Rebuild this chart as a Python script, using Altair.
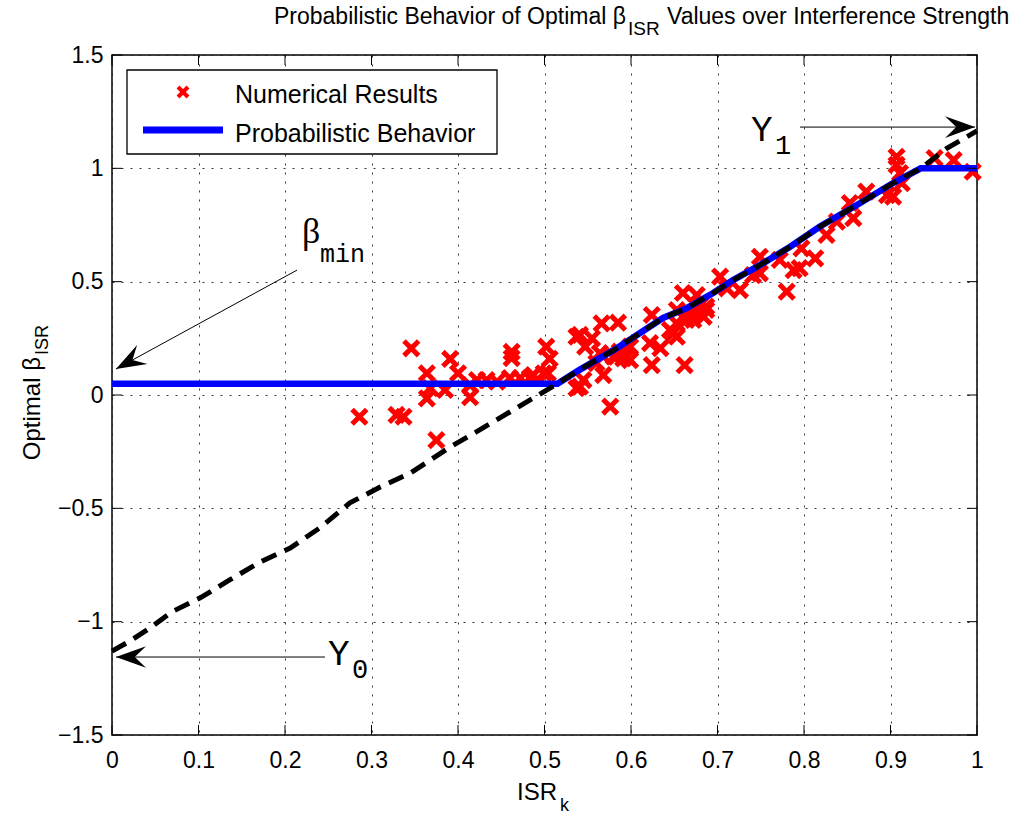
import altair as alt
import pandas as pd

W, H = 865, 680
SANS = "Liberation Sans"
MONO = "Liberation Mono"
SERIF = "Liberation Serif"

# ---- data ----
num_x = [0.286, 0.329, 0.337, 0.346, 0.364, 0.364, 0.368, 0.375, 0.385, 0.391,
         0.400, 0.414, 0.414, 0.422, 0.433, 0.445, 0.460, 0.462, 0.462, 0.472,
         0.483, 0.487, 0.499, 0.502, 0.504, 0.506, 0.537, 0.537, 0.541, 0.541,
         0.545, 0.547, 0.555, 0.560, 0.564, 0.566, 0.568, 0.576, 0.580, 0.583,
         0.585, 0.587, 0.591, 0.595, 0.599, 0.599, 0.622, 0.624, 0.624, 0.634,
         0.645, 0.649, 0.653, 0.653, 0.653, 0.660, 0.660, 0.662, 0.664, 0.664,
         0.672, 0.672, 0.676, 0.680, 0.684, 0.687, 0.687, 0.703, 0.711, 0.726,
         0.741, 0.749, 0.749, 0.772, 0.780, 0.788, 0.795, 0.797, 0.813, 0.826,
         0.838, 0.853, 0.857, 0.872, 0.896, 0.903, 0.907, 0.907, 0.911, 0.913,
         0.951, 0.973, 0.995]
num_y = [-0.096, -0.088, -0.096, 0.206, 0.096, -0.015, 0.030, -0.199, 0.022, 0.159,
         0.096, -0.010, 0.044, 0.066, 0.066, 0.059, 0.075, 0.190, 0.163, 0.075,
         0.075, 0.088, 0.096, 0.213, 0.096, 0.160, 0.257, 0.030, 0.037, 0.265,
         0.066, 0.213, 0.250, 0.141, 0.185, 0.316, 0.088, -0.051, 0.169, 0.169,
         0.319, 0.191, 0.162, 0.169, 0.213, 0.154, 0.229, 0.132, 0.353, 0.207,
         0.287, 0.273, 0.316, 0.257, 0.375, 0.450, 0.345, 0.132, 0.360, 0.331,
         0.331, 0.360, 0.441, 0.397, 0.345, 0.375, 0.390, 0.522, 0.470, 0.463,
         0.529, 0.610, 0.537, 0.596, 0.456, 0.551, 0.560, 0.647, 0.603, 0.706,
         0.765, 0.847, 0.780, 0.897, 0.882, 0.875, 1.051, 1.015, 0.979, 0.935,
         1.045, 1.036, 0.985]

prob_x = [0.0, 0.515, 0.540, 0.580, 0.610, 0.637, 0.664, 0.695, 0.718, 0.749,
          0.784, 0.818, 0.865, 0.903, 0.935, 1.0]
prob_y = [0.05, 0.05, 0.110, 0.198, 0.272, 0.340, 0.382, 0.450, 0.507, 0.573,
          0.654, 0.742, 0.847, 0.935, 1.0, 1.0]

lin_x = [0.0, 0.021, 0.044, 0.069, 0.102, 0.136, 0.171, 0.206, 0.240, 0.275,
         0.310, 0.345, 0.368, 0.391, 0.425, 0.460, 0.489, 0.515, 0.540, 0.580,
         0.610, 0.637, 0.664, 0.695, 0.718, 0.749, 0.784, 0.818, 0.865, 0.903,
         0.935, 0.965, 1.0]
lin_y = [-1.130, -1.085, -1.028, -0.957, -0.895, -0.816, -0.737, -0.675, -0.587, -0.476,
         -0.406, -0.344, -0.287, -0.229, -0.154, -0.075, -0.009, 0.050, 0.110, 0.198,
         0.272, 0.340, 0.382, 0.450, 0.507, 0.573, 0.654, 0.742, 0.847, 0.935,
         1.0, 1.088, 1.165]

x_ticks = [0, 0.1, 0.2, 0.3, 0.4, 0.5, 0.6, 0.7, 0.8, 0.9, 1]
y_ticks = [-1.5, -1, -0.5, 0, 0.5, 1, 1.5]

# annotation arrows: (x_from, y_from, x_to, y_to, head angle)
arr_x1 = [0.2139, 0.2462, 0.7954]
arr_y1 = [0.551, -1.156, 1.182]
arr_x2 = [0.0046, 0.0046, 0.9977]
arr_y2 = [0.1147, -1.156, 1.182]
arr_ang = [151.3, 180, 0]

XMARK = "M-1,-1L1,1M-1,1L1,-1"
HEAD = "M0,0L-2,-0.72L-1.25,0L-2,0.72Z"

xs = alt.Scale(domain=[0, 1], nice=False, zero=False)
ys = alt.Scale(domain=[-1.5, 1.5], nice=False, zero=False)

axis_common = dict(format="~g", grid=True, gridDash=[2, 7], gridColor="#222",
                   gridWidth=1, gridOpacity=0.9, ticks=False, domain=False,
                   labelFont=SANS, labelFontSize=23, labelColor="black",
                   labelFlush=False, labelOverlap=False, title=None)
x_axis = alt.Axis(values=x_ticks, labelPadding=14, **axis_common)
y_axis = alt.Axis(values=y_ticks, labelPadding=9, **axis_common)


def X(f="x"):
    return alt.X(f"{f}:Q", scale=xs, axis=x_axis)


def Y(f="y"):
    return alt.Y(f"{f}:Q", scale=ys, axis=y_axis)


one = pd.DataFrame({"k": [0]})

num_df = pd.DataFrame({"x": num_x, "y": num_y})
prob_df = pd.DataFrame({"x": prob_x, "y": prob_y})
lin_df = pd.DataFrame({"x": lin_x, "y": lin_y})
xt_df = pd.DataFrame({"x": x_ticks})
yt_df = pd.DataFrame({"y": y_ticks})
arr_df = pd.DataFrame({"x": arr_x1, "y": arr_y1, "x2": arr_x2, "y2": arr_y2, "a": arr_ang})

scatter = alt.Chart(num_df).mark_point(
    shape=XMARK, filled=False, color="#ff0000", strokeWidth=5, size=215, opacity=1
).encode(x=X(), y=Y())

prob_line = alt.Chart(prob_df).mark_line(color="#0000ff", strokeWidth=6.5).encode(x=X(), y=Y())
lin_line = alt.Chart(lin_df).mark_line(color="black", strokeWidth=5, strokeDash=[16, 9]).encode(x=X(), y=Y())

# inward ticks on all four sides
tick_b = alt.Chart(xt_df).mark_rule(color="black", strokeWidth=1).encode(x=X(), y=alt.value(H), y2=alt.value(H - 10))
tick_t = alt.Chart(xt_df).mark_rule(color="black", strokeWidth=1).encode(x=X(), y=alt.value(0), y2=alt.value(10))
tick_l = alt.Chart(yt_df).mark_rule(color="black", strokeWidth=1).encode(y=Y(), x=alt.value(0), x2=alt.value(10))
tick_r = alt.Chart(yt_df).mark_rule(color="black", strokeWidth=1).encode(y=Y(), x=alt.value(W), x2=alt.value(W - 10))

# arrows
arr_lines = alt.Chart(arr_df).mark_rule(color="black", strokeWidth=1).encode(
    x=X("x"), y=Y("y"), x2="x2:Q", y2="y2:Q")
arr_heads = alt.Chart(arr_df).mark_point(
    shape=HEAD, filled=True, color="black", size=900, strokeWidth=0, opacity=1
).encode(x=X("x2"), y=Y("y2"), angle=alt.Angle("a:Q", scale=None))


def ann(txt, x, y, font, size):
    d = pd.DataFrame({"x": [x], "y": [y]})
    return alt.Chart(d).mark_text(text=txt, font=font, fontSize=size, align="left",
                                  baseline="alphabetic", color="black").encode(x=X(), y=Y())


annots = [
    ann("β", 0.2197, 0.6706, SERIF, 36),
    ann("min", 0.2405, 0.5868, MONO, 25),
    ann("Y", 0.7387, 1.1206, MONO, 36),
    ann("1", 0.7665, 1.063, MONO, 27),
    ann("Y", 0.2497, -1.191, MONO, 36),
    ann("0", 0.2775, -1.2485, MONO, 27),
]


def ptxt(txt, x, y, size, align="left", angle=0, font=SANS):
    kw = dict(text=txt, font=font, fontSize=size, align=align, baseline="alphabetic", color="black")
    if angle:
        kw["angle"] = angle
    return alt.Chart(one).mark_text(**kw).encode(x=alt.value(x), y=alt.value(y))


texts = [
    # title
    ptxt("Probabilistic Behavior of Optimal β", 514, -31, 23, align="right"),
    ptxt("ISR", 516, -20, 19),
    ptxt("Values over Interference Strength", 555, -31, 23),
    # y title
    ptxt("Optimal β", -72, 302, 24, align="right", angle=270),
    ptxt("ISR", -64, 300, 18, align="left", angle=270),
    # x title
    ptxt("ISR", 405, 745, 24),
    ptxt("k", 448, 756, 18),
]

# legend
leg_box = alt.Chart(one).mark_rect(fill="white", stroke="black", strokeWidth=1.3).encode(
    x=alt.value(15), x2=alt.value(385), y=alt.value(15), y2=alt.value(99))
leg_pt = alt.Chart(one).mark_point(shape=XMARK, filled=False, color="#ff0000", strokeWidth=4,
                                   size=100, opacity=1).encode(x=alt.value(71), y=alt.value(37))
leg_ln = alt.Chart(one).mark_rule(color="#0000ff", strokeWidth=7).encode(
    x=alt.value(31), x2=alt.value(111), y=alt.value(75))
leg_t1 = ptxt("Numerical Results", 123, 48, 25)
leg_t2 = ptxt("Probabilistic Behavior", 123, 87, 25)

chart = alt.layer(
    scatter, prob_line, lin_line, tick_b, tick_t, tick_l, tick_r,
    arr_lines, arr_heads, *annots, *texts,
    leg_box, leg_pt, leg_ln, leg_t1, leg_t2,
).properties(
    width=W, height=H,
    autosize=alt.AutoSizeParams(type="none"),
    padding={"left": 112, "top": 55, "right": 34, "bottom": 82},
    background="white",
).configure_view(stroke="black", strokeWidth=1.5)

chart.save("out.html", embed_options={"renderer": "svg", "actions": False})
